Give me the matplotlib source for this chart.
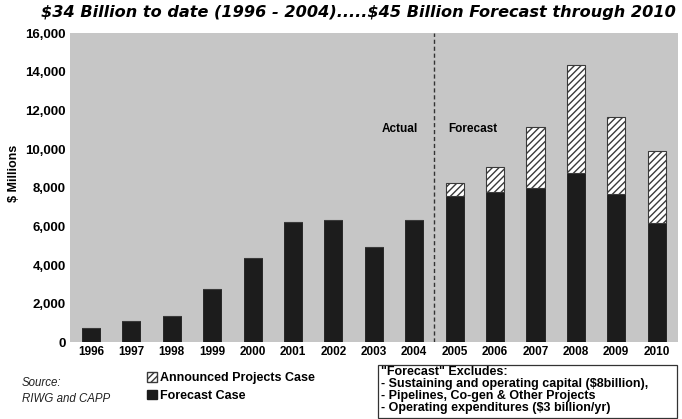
import matplotlib
matplotlib.use("Agg")
import matplotlib.pyplot as plt
import numpy as np
from matplotlib.patches import Patch, Rectangle

plt.rcParams['font.family'] = ['Liberation Sans', 'DejaVu Sans']
plt.rcParams['hatch.linewidth'] = 1.0

years = ['1996', '1997', '1998', '1999', '2000', '2001', '2002', '2003',
         '2004', '2005', '2006', '2007', '2008', '2009', '2010']
forecast_case = [750, 1100, 1350, 2750, 4350, 6200, 6350, 4950, 6350,
                 7550, 7800, 8000, 8750, 7700, 6150]
announced_total = [0, 0, 0, 0, 0, 0, 0, 0, 0,
                   8250, 9050, 11150, 14350, 11650, 9900]
yticks = [0, 2000, 4000, 6000, 8000, 10000, 12000, 14000, 16000]

announced_extra = [max(t - f, 0) for t, f in zip(announced_total, forecast_case)]

W, H = 682, 419
fig = plt.figure(figsize=(6.82, 4.19), dpi=100)
ax = fig.add_axes([0.1026, 0.183, 0.891, 0.738])
ax.set_facecolor('#c6c6c6')

x = np.arange(len(years))
ax.bar(x, forecast_case, width=0.45, color='#1c1c1c', edgecolor='#1c1c1c', linewidth=0.6)
ax.bar(x, announced_extra, width=0.45, bottom=forecast_case, color='white',
       edgecolor='#3a3a3a', hatch='/////', linewidth=0.8)

ax.set_xlim(-0.52, len(years) - 0.48)
ax.set_ylim(0, 16000)
ax.set_xticks(x)
ax.set_xticklabels(years, fontweight='bold', fontsize=8.5)
ax.set_yticks(yticks)
ax.set_yticklabels([f'{v:,}' for v in yticks], fontweight='bold', fontsize=9.5)
ax.tick_params(axis='both', length=0, pad=3)
for s in ax.spines.values():
    s.set_visible(False)

ax.axvline(8.5, color='#333333', linestyle=(0, (3, 2)), linewidth=1.0)
ax.text(7.65, 11050, 'Actual', ha='center', va='center', fontweight='bold', fontsize=8.5)
ax.text(9.45, 11050, 'Forecast', ha='center', va='center', fontweight='bold', fontsize=8.5)

fig.text(14 / W, 1 - 173 / H, r'\$ Millions', rotation=90, fontweight='bold', fontsize=9,
         ha='center', va='center')

fig.text(358 / W, 1 - 13 / H,
         r'\$34 Billion to date (1996 - 2004).....\$45 Billion Forecast through 2010',
         ha='center', va='center', fontsize=11.6, fontweight='bold', fontstyle='italic',
         family=['DejaVu Sans'])

fig.text(22 / W, 1 - 391 / H, 'Source:\nRIWG and CAPP', fontsize=8.3, fontstyle='italic',
         va='center', ha='left', linespacing=1.45, color='#222222')

handles = [Patch(facecolor='white', edgecolor='#3a3a3a', hatch='/////', label='Announced Projects Case'),
           Patch(facecolor='#1c1c1c', edgecolor='#1c1c1c', label='Forecast Case')]
fig.legend(handles=handles, loc='center left', bbox_to_anchor=(138 / W, 1 - 387 / H),
           frameon=False, prop={'weight': 'bold', 'size': 9},
           handlelength=0.8, handleheight=0.8, handletextpad=0.3, labelspacing=0.45,
           borderpad=0.2)

fig.patches.append(Rectangle((378 / W, 1 - 418 / H), (677 - 378) / W, (418 - 365) / H,
                             transform=fig.transFigure, facecolor='white',
                             edgecolor='#333333', linewidth=0.9))
fig.text(381 / W, 1 - 390 / H,
         '"Forecast" Excludes:\n- Sustaining and operating capital (\\$8billion),\n'
         '- Pipelines, Co-gen & Other Projects\n- Operating expenditures (\\$3 billion/yr)',
         fontsize=9, fontweight='bold', va='center', ha='left', linespacing=0.98)

fig.savefig('out.png', dpi=100, facecolor='white')
